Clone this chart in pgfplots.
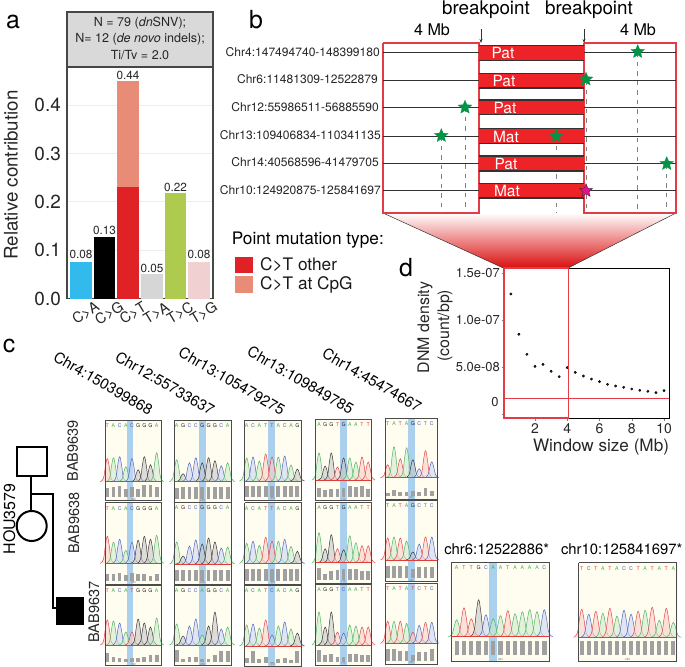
\documentclass[border=0pt]{standalone}
\usepackage{fontspec}
\setmainfont{TeX Gyre Heros}
\usepackage{pgfplots}
\pgfplotsset{compat=1.18}
\usetikzlibrary{arrows.meta}
\newcommand\fs[1]{\fontsize{#1}{#1}\selectfont}
\definecolor{cCA}{RGB}{49,186,235}
\definecolor{cCTo}{RGB}{224,33,38}
\definecolor{cCTg}{RGB}{232,140,120}
\definecolor{cTA}{RGB}{214,214,214}
\definecolor{cTC}{RGB}{174,203,80}
\definecolor{cTG}{RGB}{240,208,208}
\definecolor{hdr}{RGB}{217,217,217}
\definecolor{frameA}{RGB}{70,70,70}
\definecolor{gridc}{RGB}{238,238,238}
\definecolor{boxred}{RGB}{228,60,70}
\definecolor{barred}{RGB}{237,35,40}
\definecolor{linec}{RGB}{50,50,50}
\definecolor{stargreen}{RGB}{0,148,68}
\definecolor{starpink}{RGB}{224,20,140}
\definecolor{pkA}{RGB}{70,175,90}
\definecolor{pkC}{RGB}{70,95,190}
\definecolor{pkG}{RGB}{45,45,45}
\definecolor{pkT}{RGB}{225,60,60}
\definecolor{pkAL}{RGB}{205,235,205}
\definecolor{pkCL}{RGB}{205,215,242}
\definecolor{pkGL}{RGB}{200,200,200}
\definecolor{pkTL}{RGB}{250,208,200}
\definecolor{cream}{RGB}{255,252,240}
\definecolor{stripe}{RGB}{170,208,238}
\definecolor{barc}{RGB}{160,160,160}
\definecolor{pframe}{RGB}{75,75,75}
\pgfdeclareplotmark{fstar}{%
  \pgfpathmoveto{\pgfpointpolar{90}{\pgfplotmarksize}}%
  \pgfpathlineto{\pgfpointpolar{126}{.45\pgfplotmarksize}}%
  \pgfpathlineto{\pgfpointpolar{162}{\pgfplotmarksize}}%
  \pgfpathlineto{\pgfpointpolar{198}{.45\pgfplotmarksize}}%
  \pgfpathlineto{\pgfpointpolar{234}{\pgfplotmarksize}}%
  \pgfpathlineto{\pgfpointpolar{270}{.45\pgfplotmarksize}}%
  \pgfpathlineto{\pgfpointpolar{306}{\pgfplotmarksize}}%
  \pgfpathlineto{\pgfpointpolar{342}{.45\pgfplotmarksize}}%
  \pgfpathlineto{\pgfpointpolar{18}{\pgfplotmarksize}}%
  \pgfpathlineto{\pgfpointpolar{54}{.45\pgfplotmarksize}}%
  \pgfpathclose\pgfusepathqfillstroke}
% ---- chromatogram helpers (all drawn by \addplot in the canvas axis)
\newcommand\onepeak[2]{%
  \pgfmathsetmacro\xa{\cx-1.15*\Dx}\pgfmathsetmacro\xb{\cx-.62*\Dx}\pgfmathsetmacro\xc{\cx-.3*\Dx}%
  \pgfmathsetmacro\xd{\cx+.3*\Dx}\pgfmathsetmacro\xe{\cx+.62*\Dx}\pgfmathsetmacro\xf{\cx+1.15*\Dx}%
  \pgfmathsetmacro\ya{\Bs-.16*#2}\pgfmathsetmacro\yb{\Bs-.68*#2}\pgfmathsetmacro\yt{\Bs-#2}%
  \edef\tmpp{\noexpand\addplot[forget plot,smooth,tension=.7,draw=pk#1,fill=pk#1L,fill opacity=.6,line width=.45bp] coordinates {(\xa,\Bs)(\xb,\ya)(\xc,\yb)(\cx,\yt)(\xd,\yb)(\xe,\ya)(\xf,\Bs)};%
    \noexpand\node[font=\noexpand\fs{5.2},text=pk#1,inner sep=0pt] at (axis cs:\cx,\Ly) {#1};}\tmpp
  \pgfmathsetmacro\cx{\cx+\Dx}}
\def\pkloop#1#2,{\ifx#1!\let\nxt\relax\else\def\nxt{\onepeak{#1}{#2}\pkloop}\fi\nxt}
\def\Bo{3.5}
\newcommand\col[7]{\def\Xa{#1}\def\Xb{#2}\def\Sa{#3}\def\Sb{#4}\def\Fx{#5}\def\Dx{#6}\def\Tk{#7}}
% \panel{y0}{y1}{baseline}{peaks}{bars}
\newcommand\panel[5]{%
  \def\Bs{#3}\pgfmathsetmacro\Ly{#1+5.5}\pgfmathsetmacro\By{#2-\Bo}\pgfmathsetmacro\cx{\Fx}%
  \edef\tmpp{\noexpand\addplot[forget plot,fill=cream,draw=none] coordinates {(\Xa,#1)(\Xb,#1)(\Xb,#2)(\Xa,#2)};%
    \noexpand\addplot[forget plot,fill=stripe,draw=none] coordinates {(\Sa,#1)(\Sb,#1)(\Sb,#2)(\Sa,#2)};}\tmpp
  \pkloop #4,!0,%
  \edef\tmpp{\noexpand\addplot[forget plot,draw=pkT,line width=.6bp] coordinates {(\Xa,#3)(\Xb,#3)};}\tmpp
  \pgfmathsetmacro\cx{\Fx}\def\pts{}%
  \pgfplotsforeachungrouped \hh in {#5}{%
    \pgfmathsetmacro\Tt{\By-\hh}\edef\pts{\pts(\cx,\By)(\cx,\Tt)(nan,nan)}\pgfmathsetmacro\cx{\cx+\Dx}}%
  \pgfmathsetmacro\Bw{.6*\Dx}\pgfmathsetmacro\Tkx{(\Xa+\Xb)/2}\pgfmathsetmacro\Tky{#2-1.7}%
  \edef\tmpp{\noexpand\addplot[forget plot,unbounded coords=jump,line width=\Bw bp,draw=barc] coordinates {\pts};%
    \noexpand\addplot[forget plot,draw=pframe,line width=.9bp] coordinates {(\Xa,#1)(\Xb,#1)(\Xb,#2)(\Xa,#2)(\Xa,#1)};%
    \noexpand\node[font=\noexpand\fs{3},text=gray,inner sep=0pt] at (axis cs:\Tkx,\Tky) {\Tk};}\tmpp}
% ---- panel b row
\newcommand\brow[3]{%
  \addplot[forget plot,draw=linec,line width=1.1bp] coordinates {(383,#1)(676,#1)};
  \addplot[forget plot,fill=barred,draw=none] coordinates {(479,#2)(584,#2)(584,#3)(479,#3)};
  \addplot[forget plot,draw=linec,line width=1.3bp] coordinates {(479,#2)(584,#2)};
  \addplot[forget plot,draw=linec,line width=1.3bp] coordinates {(479,#3)(584,#3)};}
\begin{document}
\begin{tikzpicture}
\useasboundingbox (0bp,0bp) rectangle (685bp,-667bp);
% gradient funnel
\begin{scope}[x=1bp,y=-1bp]
\shade[top color=white,bottom color=red!85!black!95] (383,213)--(676,213)--(567.5,268.3)--(504,268.3)--cycle;
\draw[linec,line width=.5bp] (383,213)--(504,268.3) (676,213)--(567.5,268.3);
\end{scope}
% ===== canvas axis (panels b and c, coordinates in picture pixels)
\begin{axis}[at={(0bp,0bp)},anchor=north west,width=685bp,height=667bp,scale only axis,hide axis,clip=false,
  xmin=0,xmax=685,ymin=0,ymax=667,y dir=reverse]
% panel b
\addplot[forget plot,draw=boxred,line width=1.3bp] coordinates {(383,43)(479,43)(479,213)(383,213)(383,43)};
\addplot[forget plot,draw=boxred,line width=1.3bp] coordinates {(584,43)(676,43)(676,213)(584,213)(584,43)};
\addplot[forget plot,draw=gray,dash pattern=on 4.5bp off 5bp,line width=.7bp] coordinates {(637.7,52)(637.7,213)};
\addplot[forget plot,draw=gray,dash pattern=on 4.5bp off 5bp,line width=.7bp] coordinates {(586,80)(586,213)};
\addplot[forget plot,draw=gray,dash pattern=on 4.5bp off 5bp,line width=.7bp] coordinates {(465,107)(465,213)};
\addplot[forget plot,draw=gray,dash pattern=on 4.5bp off 5bp,line width=.7bp] coordinates {(441.3,136)(441.3,213)};
\addplot[forget plot,draw=gray,dash pattern=on 4.5bp off 5bp,line width=.7bp] coordinates {(556.3,136)(556.3,213)};
\addplot[forget plot,draw=gray,dash pattern=on 4.5bp off 5bp,line width=.7bp] coordinates {(666.7,164)(666.7,213)};
\brow{52.7}{45.3}{60.3}
\brow{80.7}{73.3}{88}
\brow{107.3}{100}{114.7}
\brow{136.3}{128.7}{143.7}
\brow{163.7}{156}{171}
\brow{190.7}{183.3}{198}
\addplot[forget plot,draw=linec,line width=.8bp,-{Stealth[length=4bp,width=3bp]}] coordinates {(481,29)(481,43)};
\addplot[forget plot,draw=linec,line width=.8bp,-{Stealth[length=4bp,width=3bp]}] coordinates {(584,29)(584,43)};
\addplot[forget plot,only marks,mark=fstar,mark size=7.2bp,mark options={fill=stargreen,draw=stargreen,line width=.2bp}]
  coordinates {(637.7,51.7)(586,79.3)(465,107.3)(441.3,135.7)(556.3,136)(666.7,163.7)};
\addplot[forget plot,only marks,mark=fstar,mark size=7bp,mark options={fill=starpink,draw=linec,line width=.4bp}]
  coordinates {(586,190.7)};
% panel c : chromatograms
\col{105}{161.7}{127.3}{133.3}{107.3}{6.17}{180}
\panel{420}{500.7}{481.7}{T23,A24,C25,A15,C23,G12,G25,G17,A29}{9,10,11,8,10,8,12,12,10}
\panel{502.7}{584}{563.3}{T27,A21,C24,A13,C21,G23,G27,G24,A28}{7,7,8,6,8,7,7,5,7}
\panel{585}{665.7}{645}{T25,A24,C22,A13,T13,G26,G22,G18,A27}{9,5,4,3,4,4,5,7,7}
\col{174.3}{231}{199.3}{206}{176.7}{6.37}{250}
\panel{420}{502.3}{481.7}{A22,G8,C19,C24,G19,G24,G21,C16,A19}{11,12,12,12,12,12,12,12,12}
\panel{502.3}{584}{564}{A22,G8,C18,C24,G20,G26,G22,C16,A17}{11,11,11,11,11,11,11,11,11}
\panel{585}{665.7}{645}{A21,G9,C19,C26,A10,G19,G33,C16,A18}{12,3,5,5,3,3,7,11,11}
\col{244.7}{301.3}{268.3}{275}{246.7}{6.33}{350}
\panel{420}{500.3}{481}{A23,C24,A20,T27,T24,A24,C25,A16,G12}{11,11,11,11,11,11,11,11,11}
\panel{502.7}{584}{563.3}{A20,C22,A18,T26,T22,A22,C24,A17,G12}{12,12,12,12,12,12,12,12,12}
\panel{585}{666}{646}{A21,C22,A18,T26,C11,A20,C24,A17,G13}{5,12,4,6,1,4,5,3,12}
\col{315}{371.3}{340}{346.7}{319}{6.15}{110}
\panel{419.3}{500.7}{480}{A27,G14,G27,T13,G22,A22,A18,T23,T18}{9,7,8,8,9,11,10,11,8}
\panel{502.3}{583}{562.7}{A30,G14,G28,T14,G13,A27,A20,T17,T17}{12,6,9,10,11,11,11,9,9}
\panel{584.3}{665.3}{645}{A33,G18,G33,T13,C12,A20,A19,T18,T18}{12,7,8,5,5,8,8,7,7}
\col{385.7}{437.3}{408.3}{415}{387.7}{6.3}{180}
\panel{418.3}{499.3}{477.7}{T13,A31,T19,A30,G18,C9,T27,C16}{3,6,4,4,5,4,8,5}
\panel{500.3}{581.7}{560}{T22,A23,T22,A19,G8,C16,T23,C23}{12,12,12,12,9,11,11,11}
\panel{583.3}{664}{643.3}{T22,A22,T22,A20,T11,C18,T21,C21}{12,12,10,10,6,9,9,12}
\def\Bo{6}
\col{451.7}{549.3}{489.3}{496.7}{456.7}{7.3}{360}
\panel{562.3}{661}{636.7}{A17,T29,T18,G37,C22,A18,A21,T26,A23,A25,A27,A25,C27}{14,14,14,14,14,14,14,14,14,14,14,14,14}
\col{578.7}{676.7}{676.7}{676.7}{581.7}{7.05}{260}
\panel{562.7}{661}{637.3}{T28,C23,T26,A24,T29,A21,C27,C23,T26,A27,T30,A17,T29,A15}{14,14,14,14,14,14,14,14,14,14,14,14,14,14}
\end{axis}
% ===== panel a
\begin{axis}[at={(67bp,-298.5bp)},anchor=south west,width=146bp,height=231.5bp,scale only axis,
  xmin=0.407,xmax=6.593,ymin=0,ymax=0.479,
  axis line style={draw=frameA,line width=1.2bp},
  ytick={0,0.1,0.2,0.3,0.4},yticklabels={0.0,0.1,0.2,0.3,0.4},
  ymajorgrids,grid style={draw=gridc,line width=1bp},
  xtick={1,2,3,4,5,6},xticklabels={C>A,C>G,C>T,T>A,T>C,T>G},
  tick style={draw=none},axis on top=false,
  yticklabel style={font=\fs{19},text=black!85,inner sep=0pt,xshift=-6bp},
  xticklabel style={font=\fs{14.5},rotate=31,anchor=center,inner sep=0pt,xshift=-3.5bp,yshift=-15bp,text=black!85},
  /pgf/number format/assume math mode=true,clip=false]
\addplot[ybar,bar shift=0pt,bar width=21.7bp,fill=cCA,draw=none] coordinates {(1,0.076)};
\addplot[ybar,bar shift=0pt,bar width=21.7bp,fill=black,draw=none] coordinates {(2,0.128)};
\addplot[ybar,bar shift=0pt,bar width=21.7bp,fill=cCTg,draw=none] coordinates {(3,0.45)};
\addplot[ybar,bar shift=0pt,bar width=21.7bp,fill=cCTo,draw=none] coordinates {(3,0.231)};
\addplot[ybar,bar shift=0pt,bar width=21.7bp,fill=cTA,draw=none] coordinates {(4,0.051)};
\addplot[ybar,bar shift=0pt,bar width=21.7bp,fill=cTC,draw=none] coordinates {(5,0.218)};
\addplot[ybar,bar shift=0pt,bar width=21.7bp,fill=cTG,draw=none] coordinates {(6,0.076)};
\end{axis}
% ===== panel d
\begin{axis}[at={(504bp,-418.3bp)},anchor=south west,width=165bp,height=150bp,scale only axis,
  xmin=0.078,xmax=10.31,ymin=-4.57e-9,ymax=1.55e-7,
  axis line style={draw=black,line width=.8bp},
  xtick={2,4,6,8,10},ytick={0,5e-8,1e-7,1.5e-7},
  yticklabels={,5.0e-08,1.0e-07,1.5e-07},
  xticklabels={2,4,6,8,10},scaled y ticks=false,
  tick align=outside,tick pos=left,major tick length=2.5bp,
  yticklabel style={font=\fs{13},text=black!85,inner sep=0pt,xshift=-1.5bp},
  xticklabel style={font=\fs{14},text=black!85,inner sep=0pt,yshift=-3bp},
  /pgf/number format/assume math mode=true]
\addplot[only marks,mark=*,mark size=1.2bp,mark options={fill=black!85,draw=none}] coordinates {
(0.5,1.277e-7)(1,8.48e-8)(1.5,6.35e-8)(2,5.07e-8)(2.5,5.28e-8)(3,4.54e-8)(3.5,3.97e-8)(4,4.93e-8)
(4.5,4.43e-8)(5,4.04e-8)(5.5,3.72e-8)(6,3.44e-8)(6.5,3.16e-8)(7,2.98e-8)(7.5,2.84e-8)(8,2.66e-8)
(8.5,2.52e-8)(9,2.41e-8)(9.5,2.27e-8)(10,2.48e-8)};
\end{axis}
% ===== overlays and text (picture pixels)
\begin{scope}[x=1bp,y=-1bp,every node/.style={inner sep=0pt}]
% panel a header and labels
\draw[draw=frameA,fill=hdr,line width=1.2bp] (67,12) rectangle (213,67);
\node[font=\fs{12.6},text=black!85] at (140,22.7) {N = 79 (\textit{dn}SNV);};
\node[font=\fs{12.6},text=black!85] at (140,39.3) {N= 12 (\textit{de novo} indels);};
\node[font=\fs{12.6},text=black!85] at (140,55) {Ti/Tv = 2.0};
\node[font=\fs{18.8},text=black!85,rotate=90] at (11,175) {Relative contribution};
\node[font=\fs{25}] at (13,22) {a};
\node[font=\fs{25}] at (256,20) {b};
\node[font=\fs{25}] at (9,346) {c};
\node[font=\fs{25}] at (406,268) {d};
\foreach \x/\y/\t in {81/254/0.08,104.5/230/0.13,128/75/0.44,152/268/0.05,175.5/187.5/0.22,199/254.5/0.08}
  \node[font=\fs{11.8},text=black!85] at (\x,\y) {\t};
% panel b text
\node[font=\fs{18.9}] at (486,10) {breakpoint};
\node[font=\fs{18.9}] at (589,10) {breakpoint};
\node[font=\fs{16.2}] at (432,30) {4 Mb};
\node[font=\fs{16.2}] at (638,30) {4 Mb};
\foreach \r/\y/\t in {380/51.7/Chr4:147494740-148399180,378/79.3/Chr6:11481309-12522879,379/106.7/Chr12:55986511-56885590,381/135/Chr13:109406834-110341135,379/162/Chr14:40568596-41479705,381/189.7/Chr10:124920875-125841697}
  \node[font=\fs{12.1},text=black!85,anchor=east] at (\r,\y) {\t};
\foreach \x/\y/\t in {503/52.7/Pat,504/81/Pat,505/108/Pat,506/137/Mat,506/164/Pat,507/191/Mat}
  \node[font=\fs{15.5},text=white] at (\x,\y) {\t};
% legend
\node[font=\fs{17.3},anchor=west] at (231.7,240) {Point mutation type:};
\fill[cCTo] (235,257) rectangle (253,273);
\fill[cCTg] (235,276) rectangle (253,293);
\node[font=\fs{17.3},anchor=west,text=black!90] at (260,265) {C>T other};
\node[font=\fs{17.3},anchor=west,text=black!90] at (260,284.5) {C>T at CpG};
% panel d overlays
\draw[boxred,line width=1.8bp] (504,268.3) rectangle (568.5,418.3);
\draw[boxred,line width=1.3bp] (504,398.3) -- (669,398.3);
\node[font=\fs{16},rotate=90,text=black!85] at (425,327.5) {DNM density};
\node[font=\fs{16},rotate=90,text=black!85] at (445,325.7) {(count/bp)};
\node[font=\fs{13},text=black!85] at (495,402.5) {0};
\node[font=\fs{17.2},text=black!85] at (601,447) {Window size (Mb)};
% panel c text
\node[font=\fs{15},rotate=-30] at (103.3,383.3) {Chr4:150399868};
\node[font=\fs{15},rotate=-30] at (165,383.3) {Chr12:55733637};
\node[font=\fs{15},rotate=-30] at (232,381) {Chr13:105479275};
\node[font=\fs{15},rotate=-30] at (300.7,380) {Chr13:109849785};
\node[font=\fs{15},rotate=-30] at (372,380) {Chr14:45474667};
\node[font=\fs{14.6},rotate=90,text=black!85] at (72.7,450.7) {BAB9639};
\node[font=\fs{14.6},rotate=90,text=black!85] at (74,523) {BAB9638};
\node[font=\fs{14.6},rotate=90,text=black!85] at (94,612) {BAB9637};
\node[font=\fs{16},rotate=90] at (9.3,519) {HOU3579};
\node[font=\fs{14.9}] at (496.7,549) {chr6:12522886*};
\node[font=\fs{14.9}] at (621.7,549) {chr10:125841697*};
% pedigree
\draw[line width=2bp] (16.7,447.3) rectangle (46.7,476);
\draw[line width=2bp] (31,476) -- (31,511);
\draw[line width=2bp] (31,494) -- (52.7,494) -- (52.7,608.3) -- (56,608.3);
\draw[line width=2bp] (31.7,526) circle (15bp);
\fill[black] (56,596.7) rectangle (84,625);
\end{scope}
\end{tikzpicture}
\end{document}
